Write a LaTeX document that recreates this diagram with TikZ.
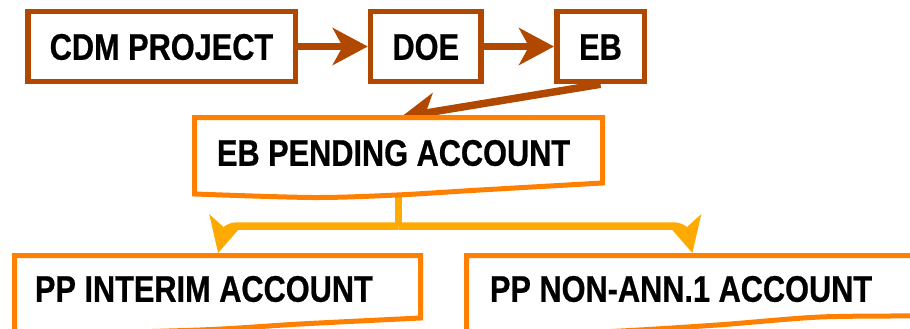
\documentclass[tikz,border=0pt]{standalone}
\usepackage{fontspec}
\newfontfamily\boxfont{Liberation Sans}[FakeStretch=0.83, FakeBold=0.6]
\usetikzlibrary{arrows.meta,calc}
\definecolor{brn}{RGB}{176,72,0}
\definecolor{org}{RGB}{255,128,0}
\definecolor{ylw}{RGB}{255,170,0}
\pgfdeclarelayer{background}
\pgfsetlayers{background,main}
\begin{document}
\begin{tikzpicture}[x=1pt,y=-1pt,
  lbl/.style={font=\boxfont\bfseries\fontsize{37}{40}\selectfont, text=black, text height=26.5pt, text depth=0pt},
  brbox/.style={lbl, draw=brn, line width=5.5pt, fill=white, minimum height=70pt, inner sep=0pt},
  docbox/.style={lbl, outer sep=0pt, align=flush left, inner ysep=0pt},
  docline/.style={draw=org, line width=5pt, fill=white},
  brarrow/.style={draw=brn, line width=7.5pt, -{Stealth[length=35pt,width=37pt,inset=10pt]}},
  yline/.style={draw=ylw, line width=7.5pt},
  yarrow/.style={-{Stealth[length=35pt,width=35pt,inset=9pt]}, shorten >=2.5pt}]
\useasboundingbox (0,0) rectangle (910,329);

% upper chain
\node[brbox, minimum width=267.5pt] (cdm) at (161.5,46.5) {CDM PROJECT};
\node[brbox, minimum width=110.5pt] (doe) at (425.75,46.5) {DOE};
\node[brbox, minimum width=87.5pt] (eb) at (600.5,46.5) {EB};

% document boxes
\node[docbox, text width=363pt, inner xsep=22.5pt, minimum height=70pt] (pend) at (398.5,152.5) {EB PENDING ACCOUNT};
\node[docbox, text width=365pt, inner xsep=20.5pt, minimum height=66pt] (interim) at (217.5,288.5) {PP INTERIM ACCOUNT};
\node[docbox, text width=406pt, inner xsep=23.5pt, minimum height=66pt] (nonann) at (693,288.5) {PP NON-ANN.1 ACCOUNT};

\begin{pgfonlayer}{background}
\clip (0,0) rectangle (910,329);
% connectors
\draw[brarrow] (cdm) -- (doe);
\draw[brarrow] (doe) -- (eb);
\draw[brarrow, shorten >=2.5pt] (eb.south) -- (pend.north);
\draw[yline] (pend.south) -- ++(0,38.5) coordinate (j);
\draw[yline, yarrow] (j) -- ($(j -| interim.north)+(20,0)$) .. controls +(-12,0) and +(5,-20) .. (interim.north);
\draw[yline, yarrow] (j) -- ($(j -| nonann.north)+(-20,0)$) .. controls +(12,0) and +(-5,-20) .. (nonann.north);
% document outlines
\draw[docline] (pend.north west) -- (pend.north east)
  -- plot[smooth] coordinates {(602.5,183) (480,190) (397,195) (313,197.5) (194.5,194)} -- cycle;
\draw[docline] (interim.north west) -- (interim.north east)
  -- plot[smooth] coordinates {(420.5,318) (300,324) (200,330) (14.5,335)} -- cycle;
\draw[docline] (nonann.north west) -- (nonann.north east)
  -- plot[smooth] coordinates {(919.5,316) (820,317) (717,325) (600,332) (466.5,335)} -- cycle;
\end{pgfonlayer}
\end{tikzpicture}
\end{document}
